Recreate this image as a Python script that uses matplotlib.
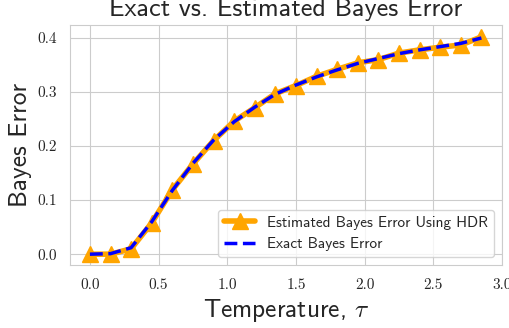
import matplotlib
matplotlib.use('Agg')
import matplotlib.pyplot as plt
import seaborn as sns

# Temperature values and Bayes error curves
temperature = [0.0, 0.15, 0.3, 0.45, 0.6, 0.75, 0.9, 1.05, 1.2, 1.35,
               1.5, 1.65, 1.8, 1.95, 2.1, 2.25, 2.4, 2.55, 2.7, 2.85]
exact_err = [0.0, 0.001, 0.012, 0.060, 0.118, 0.168, 0.211, 0.245, 0.272, 0.296,
             0.313, 0.328, 0.341, 0.353, 0.362, 0.371, 0.378, 0.384, 0.390, 0.400]
hdr_err = [0.0, 0.0, 0.010, 0.058, 0.119, 0.167, 0.210, 0.246, 0.271, 0.297,
           0.312, 0.329, 0.342, 0.354, 0.360, 0.372, 0.378, 0.383, 0.387, 0.402]
xticks = [0.0, 0.5, 1.0, 1.5, 2.0, 2.5, 3.0]
yticks = [0.0, 0.1, 0.2, 0.3, 0.4]

sns.set_style('whitegrid')
plt.rcParams['font.family'] = ['cmss10', 'DejaVu Sans']
plt.rcParams['mathtext.fontset'] = 'cm'
plt.rcParams['axes.formatter.use_mathtext'] = True

fig = plt.figure(figsize=(5.09, 3.28), dpi=100)
ax = fig.add_axes([70 / 509, 63 / 328, 432 / 509, 240 / 328])

ax.plot(temperature, hdr_err, color='orange', marker='^', markersize=11,
        linewidth=4, label='Estimated Bayes Error Using HDR')
ax.plot(temperature, exact_err, color='blue', linestyle='--', linewidth=2.5,
        label='Exact Bayes Error')

ax.set_xticks(xticks)
ax.set_xticklabels([f'{v:.1f}' for v in xticks], family='cmr10', fontsize=11)
ax.set_yticks(yticks)
ax.set_yticklabels([f'{v:.1f}' for v in yticks], family='cmr10', fontsize=11)
ax.set_xlim(-0.145, 3.0)
ax.set_ylim(-0.02, 0.424)
ax.tick_params(axis='both', colors='#262626', pad=6)

# the original figure was cropped tight, so the title top and "3.0" sit at the edge
ax.set_title('Exact vs. Estimated Bayes Error', fontsize=18.8, color='#262626', pad=6.5)
ax.set_xlabel(r'Temperature, $\tau$', fontsize=18.3, color='#262626')
ax.set_ylabel('Bayes Error', fontsize=18.3, color='#262626')
ax.legend(loc='lower right', fontsize=11)

plt.savefig('out.png', dpi=100)
